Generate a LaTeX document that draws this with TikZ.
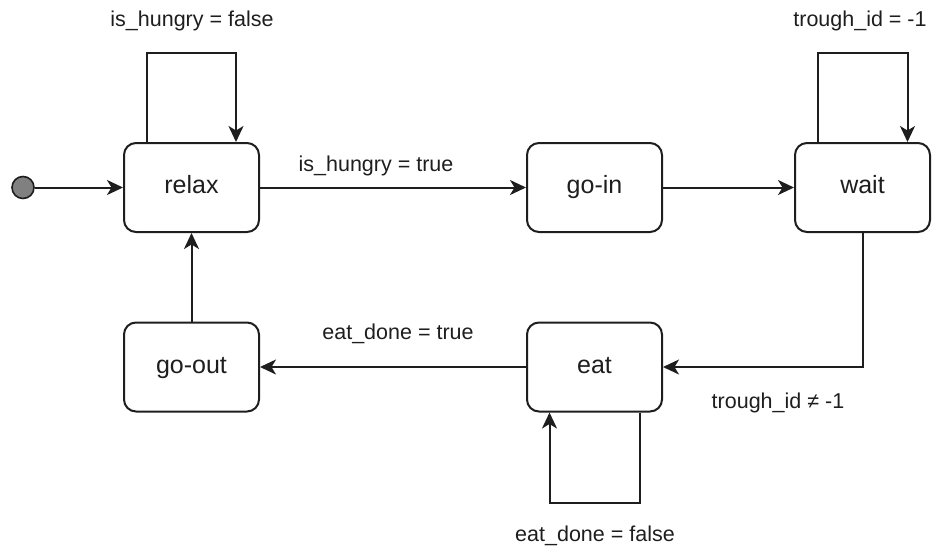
\documentclass[tikz,border=0pt]{standalone}
\usepackage{fontspec}
\setmainfont{Liberation Sans}
\usetikzlibrary{arrows.meta,calc}
\definecolor{ink}{HTML}{1E1E1E}
\definecolor{initfill}{HTML}{808080}
\begin{document}
\begin{tikzpicture}[x=1pt,y=-1pt,
  state/.style={draw=ink,line width=2pt,rounded corners=12pt,fill=white,
    minimum width=135pt,minimum height=89pt,inner sep=0pt,
    text height=18pt,text depth=5.5pt,
    font=\fontsize{25}{30}\selectfont,text=ink},
  conn/.style={draw=ink,line width=2pt,-{Stealth[length=16pt,width=15pt,inset=4.5pt]}},
  lbl/.style={font=\fontsize{21.5}{26}\selectfont,text=ink,inner sep=0pt,
    text height=15.5pt,text depth=4.5pt}]
  \useasboundingbox (0,0) rectangle (932,550);

  % states
  \node[state] (relax)  at (191.5,187.5) {relax};
  \node[state] (goin)   at (594.5,187.5) {go-in};
  \node[state] (wait)   at (862.5,187.5) {wait};
  \node[state] (goout)  at (191.5,367)   {go-out};
  \node[state] (eat)    at (594.5,367)   {eat};

  % initial pseudo-state
  \node[circle,draw=ink,line width=1.6pt,fill=initfill,minimum size=22pt,inner sep=0pt] (init) at (23,187.5) {};

  % transitions
  \draw[conn] (init) -- (relax);
  \draw[conn] (relax) -- (goin);
  \draw[conn] (goin) -- (wait);
  \draw[conn] (wait.south) |- (eat.east);
  \draw[conn] (eat) -- (goout);
  \draw[conn] (goout) -- (relax);

  % self loops
  \coordinate (rl1) at ($(relax.north)+(-44.5,-89)$);
  \coordinate (rl2) at ($(relax.north)+(44.5,-89)$);
  \draw[conn] ($(relax.north)+(-44.5,0)$) -- (rl1) -- (rl2) -- ($(relax.north)+(44.5,0)$);

  \coordinate (wl1) at ($(wait.north)+(-44.5,-89.5)$);
  \coordinate (wl2) at ($(wait.north)+(45,-89.5)$);
  \draw[conn] ($(wait.north)+(-44.5,0)$) -- (wl1) -- (wl2) -- ($(wait.north)+(45,0)$);

  \coordinate (el1) at ($(eat.south)+(45,90)$);
  \coordinate (el2) at ($(eat.south)+(-45,90)$);
  \draw[conn] ($(eat.south)+(45,0)$) -- (el1) -- (el2) -- ($(eat.south)+(-45,0)$);

  % guard labels
  \node[lbl] (l1) at (192,21)  {is\_hungry = false};
  \node[lbl] (l2) at (376,166) {is\_hungry = true};
  \node[lbl] (l3) at (860,21)  {trough\_id = -1};
  \node[lbl] (l4) at (778,403) {trough\_id ≠ -1};
  \node[lbl] (l5) at (398,334) {eat\_done = true};
  \node[lbl] (l6) at (595,536) {eat\_done = false};
\end{tikzpicture}
\end{document}
